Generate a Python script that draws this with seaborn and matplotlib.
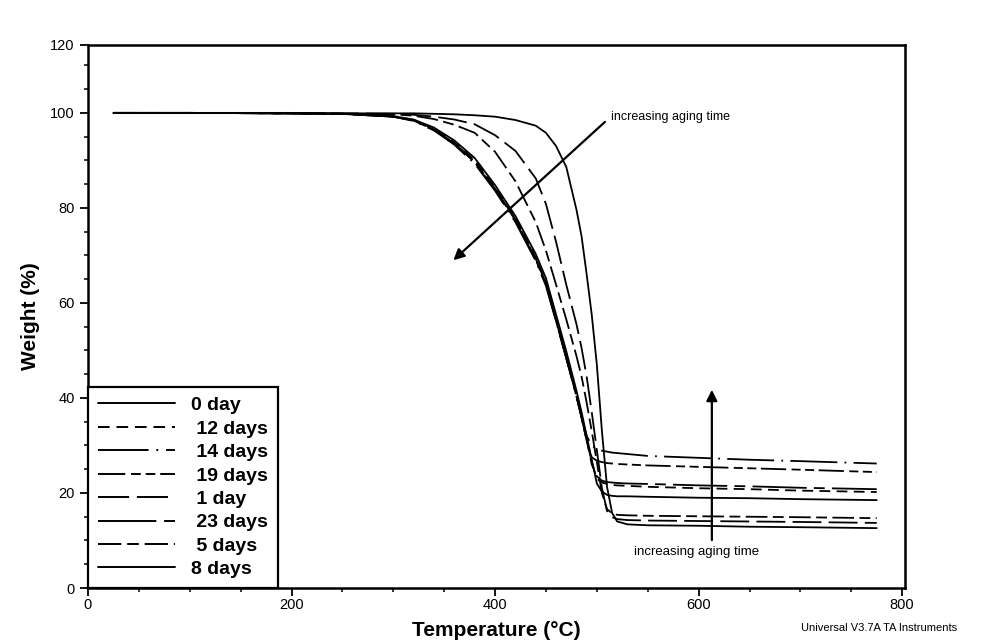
import numpy as np
import pandas as pd
import matplotlib
matplotlib.use("Agg")
import matplotlib.pyplot as plt
import seaborn as sns
from matplotlib.ticker import MultipleLocator

# temperature grid (deg C) shared by all curves
temp_c = [25, 100, 200, 250, 300, 320, 340, 360, 380, 400, 420, 440, 450, 460,
          470, 480, 485, 490, 495, 500, 505, 510, 515, 520, 530, 550, 600, 650,
          700, 775]

# weight (%) for each aging time
w_0day = [100, 100, 100, 99.9, 99.9, 99.9, 99.8, 99.7, 99.5, 99.2, 98.5, 97.3,
          95.8, 93.0, 88.6, 79.6, 74.0, 66.0, 57.5, 47.0, 33.0, 21.3, 15.8, 14.0,
          13.4, 13.2, 13.1, 12.9, 12.8, 12.6]
w_1day = [100, 100, 99.9, 99.9, 99.8, 99.6, 99.2, 98.6, 97.6, 95.3, 92.0, 86.2,
          80.8, 72.8, 63.8, 55.5, 50.5, 44.5, 37.0, 29.0, 21.0, 16.2, 14.9, 14.5,
          14.3, 14.2, 14.1, 14.0, 13.9, 13.7]
w_5days = [100, 100, 99.9, 99.8, 99.7, 99.4, 98.7, 97.5, 95.8, 91.8, 85.6, 77.0,
           71.0, 63.8, 56.5, 48.8, 44.5, 39.0, 33.0, 26.5, 20.0, 16.6, 15.7, 15.4,
           15.3, 15.2, 15.1, 15.0, 14.9, 14.7]
w_8days = [100, 100, 99.9, 99.8, 99.3, 98.6, 96.9, 94.2, 90.5, 84.8, 78.3, 70.3,
           65.2, 57.5, 49.8, 41.5, 37.0, 32.0, 27.0, 22.0, 20.3, 19.6, 19.4, 19.3,
           19.3, 19.2, 19.0, 18.9, 18.7, 18.5]
w_12days = [100, 100, 99.9, 99.8, 99.3, 98.5, 96.6, 93.8, 90.0, 84.3, 77.8, 69.5,
            64.3, 56.5, 48.7, 40.5, 36.0, 31.2, 26.5, 23.0, 22.2, 21.9, 21.7, 21.6,
            21.5, 21.3, 21.0, 20.8, 20.5, 20.2]
w_14days = [100, 100, 99.9, 99.8, 99.2, 98.3, 96.3, 93.3, 89.3, 83.6, 77.0, 68.8,
            63.6, 56.0, 48.3, 40.3, 36.0, 32.0, 30.0, 29.2, 28.9, 28.7, 28.5, 28.4,
            28.2, 27.8, 27.4, 27.0, 26.7, 26.2]
w_19days = [100, 100, 99.9, 99.8, 99.2, 98.4, 96.4, 93.5, 89.6, 83.9, 77.4, 69.1,
            63.9, 56.2, 48.4, 40.3, 35.8, 31.0, 27.5, 26.8, 26.5, 26.3, 26.2, 26.1,
            26.0, 25.8, 25.5, 25.2, 24.9, 24.4]
w_23days = [100, 100, 99.9, 99.8, 99.2, 98.4, 96.5, 93.6, 89.8, 84.0, 77.6, 69.3,
            64.1, 56.3, 48.5, 40.4, 35.9, 31.1, 26.0, 23.5, 22.6, 22.3, 22.2, 22.1,
            22.0, 21.9, 21.6, 21.4, 21.1, 20.8]

# legend order as in the instrument software
sample_order = ["0 day", "12 days", "14 days", "19 days", "1 day", "23 days",
                "5 days", "8 days"]
legend_labels = ["0 day", " 12 days", " 14 days", " 19 days", " 1 day",
                 " 23 days", " 5 days", "8 days"]

series = {
    "0 day": w_0day, "12 days": w_12days, "14 days": w_14days,
    "19 days": w_19days, "1 day": w_1day, "23 days": w_23days,
    "5 days": w_5days, "8 days": w_8days,
}
df = pd.concat(
    [pd.DataFrame({"Temperature": temp_c, "Weight": w, "Sample": name})
     for name, w in series.items()],
    ignore_index=True,
)

dash_map = {
    "0 day": "",
    "12 days": (6, 3.5),
    "14 days": (26, 4, 1, 4),
    "19 days": (14, 3, 5, 2.5, 5, 2.5),
    "1 day": (16, 4),
    "23 days": (30, 4, 6, 4),
    "5 days": (12, 3, 6, 3),
    "8 days": "",
}

sns.set_style("ticks")
plt.rcParams["font.family"] = ["Liberation Sans", "DejaVu Sans"]
plt.rcParams["text.color"] = "black"
plt.rcParams["axes.labelcolor"] = "black"

fig = plt.figure(figsize=(9.93, 6.42), dpi=100)
ax = fig.add_axes([0.0886, 0.0841, 0.823, 0.8459])

sns.lineplot(data=df, x="Temperature", y="Weight", style="Sample",
             style_order=sample_order, dashes=dash_map, color="black",
             linewidth=1.3, sort=False, estimator=None, ax=ax)

ax.set_xlim(0, 803)
top = 114.3
ax.set_ylim(0, top)
ax.set_xticks([0, 200, 400, 600, 800])
ax.xaxis.set_minor_locator(MultipleLocator(50))
ax.set_yticks([0, 20, 40, 60, 80, 100, top])
ax.set_yticklabels(["0", "20", "40", "60", "80", "100", "120"])
ax.set_yticks(np.arange(0, 115, 5), minor=True)
ax.tick_params(which="major", direction="out", length=6, width=1.3,
               labelsize=10.5, color="black", labelcolor="black")
ax.tick_params(axis="x", which="major", pad=1.5)
ax.tick_params(which="minor", direction="out", length=3, width=1.1,
               color="black")
for s in ax.spines.values():
    s.set_linewidth(1.8)
    s.set_color("black")

ax.set_xlabel("Temperature (°C)", fontsize=15, fontweight="bold", labelpad=6)
ax.set_ylabel("Weight (%)", fontsize=15, fontweight="bold", labelpad=7)

handles, _ = ax.get_legend_handles_labels()
handles = handles[-len(sample_order):]
for h in handles:
    h.set_linewidth(1.4)
    h.set_color("black")
leg = ax.legend(handles, legend_labels, loc="lower left", borderaxespad=0,
                frameon=True, fancybox=False, framealpha=1, handlelength=4.0,
                handletextpad=0.8, labelspacing=0.3, borderpad=0.5,
                prop={"weight": "bold", "size": 14})
leg.get_frame().set_edgecolor("black")
leg.get_frame().set_linewidth(1.6)

arrow_kw = dict(arrowstyle="-|>", color="black", lw=1.6, mutation_scale=16)
ax.annotate("", xy=(357, 68.6), xytext=(510, 98.5), arrowprops=arrow_kw)
ax.text(514, 99.2, "increasing aging time", fontsize=9, ha="left", va="center")
ax.annotate("", xy=(613, 42.3), xytext=(613, 9.5), arrowprops=arrow_kw)
ax.text(598, 7.5, "increasing aging time", fontsize=9.5, ha="center", va="center")

fig.text(0.885, 0.022, "Universal V3.7A TA Instruments", fontsize=8,
         ha="center", va="center")

fig.savefig("out.png", dpi=100)
